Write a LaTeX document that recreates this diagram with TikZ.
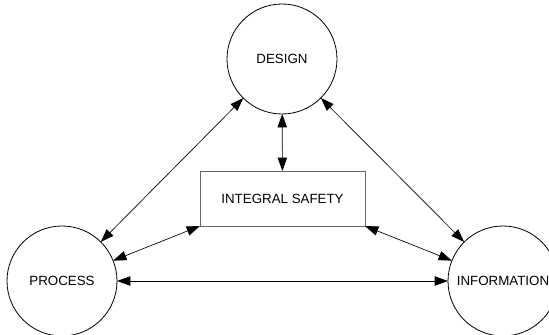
\documentclass[tikz,border=0pt]{standalone}
\usepackage{fontspec}
\setmainfont{Liberation Sans}
\usetikzlibrary{arrows.meta}

\begin{document}
\begin{tikzpicture}[x=0.75pt,y=-0.75pt]
\tikzset{
  ci/.style={circle,draw=black,line width=0.6pt,minimum size=82.5pt,inner sep=0pt,outer sep=0pt,font=\fontsize{10}{12}\selectfont},
  bx/.style={rectangle,draw=black!60,line width=0.75pt,minimum width=123.75pt,minimum height=41.25pt,inner sep=0pt,outer sep=0pt,font=\fontsize{10}{12}\selectfont},
  ar/.style={{Triangle[length=10pt,width=7pt]}-{Triangle[length=10pt,width=7pt]},line width=0.5pt,draw=black}
}
\useasboundingbox (0,0) rectangle (549,335);
\node[ci] (des) at (282,59) {DESIGN};
\node[ci] (pro) at (62,281) {PROCESS};
\node[ci] (inf) at (503,281) {INFORMATION};
\node[bx] (saf) at (282.5,198.5) {INTEGRAL SAFETY};
\foreach \a/\b in {pro/des,des/inf,des/saf,pro/inf}{\draw[ar] (\a)--(\b);}
\draw[ar] (pro)--(saf.south west);
\draw[ar] (saf.south east)--(inf);
\end{tikzpicture}
\end{document}
